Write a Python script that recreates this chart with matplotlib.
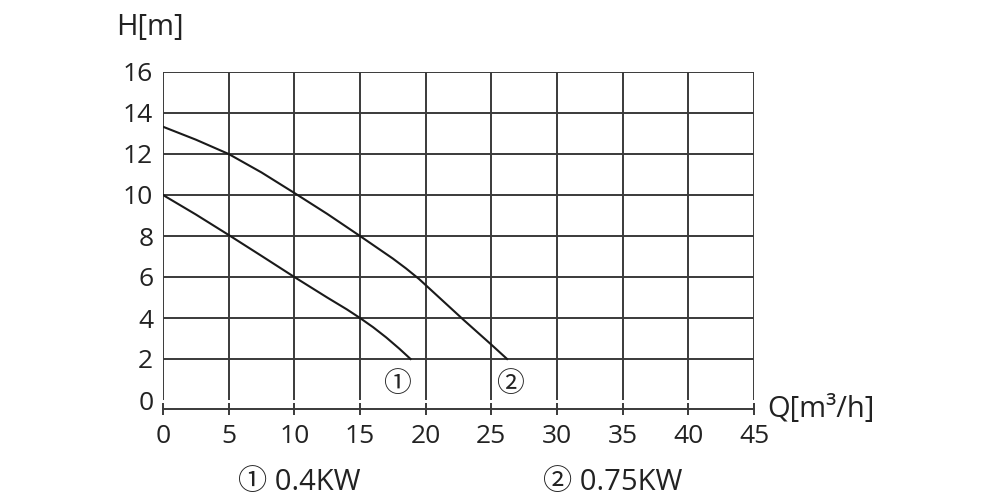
import numpy as np
import matplotlib
matplotlib.use("Agg")
import matplotlib.pyplot as plt

plt.rcParams['font.family'] = ['Open Sans', 'Noto Sans CJK SC', 'DejaVu Sans']

# 性能曲线数据（流量 Q [m³/h]，扬程 H [m]）
q_04 = [0, 2.5, 5, 7.5, 10, 12.5, 14, 15, 16, 17, 18, 18.85]
h_04 = [10.0, 9.05, 8.05, 7.03, 6.0, 5.0, 4.42, 4.0, 3.55, 3.05, 2.5, 2.0]

q_075 = [0, 2.5, 5, 7.5, 10, 12.5, 15, 17.5, 18.5, 19.5, 21.2, 22.9, 25, 26.2]
h_075 = [13.33, 12.7, 12.0, 11.1, 10.1, 9.08, 8.0, 6.9, 6.42, 5.9, 4.9, 3.9, 2.7, 2.0]

x_ticks = np.arange(0, 46, 5)
y_ticks = np.arange(0, 17, 2)

curve_tags = ["①", "②"]
curve_tag_pos = [(17.8, 0.72), (26.4, 0.72)]
legend_texts = ["① 0.4KW", "② 0.75KW"]

grid_color = "#3a3a3a"
text_color = "#222222"

fig = plt.figure(figsize=(10, 5), dpi=100)
ax = fig.add_axes([0.163, 0.2, 0.591, 0.656])
ax.set_xlim(0, 45)
ax.set_ylim(0, 16)

# 网格（y=0 处不画横线）
for yv in y_ticks[1:]:
    ax.axhline(yv, color=grid_color, lw=1.4, zorder=1)
for xv in x_ticks:
    ax.axvline(xv, color=grid_color, lw=1.4, zorder=1)

ax.plot(q_04, h_04, color="#1a1a1a", lw=1.5, zorder=3)
ax.plot(q_075, h_075, color="#1a1a1a", lw=1.5, zorder=3)

for tag, (tx, ty) in zip(curve_tags, curve_tag_pos):
    ax.text(tx, ty, tag, fontsize=20, ha="center", va="center", color=text_color)

for side in ["top", "left", "right"]:
    ax.spines[side].set_visible(False)
ax.spines["bottom"].set_position(("outward", 6.5))
ax.spines["bottom"].set_color(grid_color)
ax.spines["bottom"].set_linewidth(1.4)

ax.set_xticks(x_ticks)
ax.set_yticks(y_ticks)
ax.tick_params(axis="x", direction="inout", length=8, width=1.4, color=grid_color,
               labelsize=19, pad=7, labelcolor=text_color)
ax.tick_params(axis="y", length=0, labelsize=19, pad=7, labelcolor=text_color)

fig.text(0.116, 1 - 28 / 500, "H[m]", fontsize=21, ha="left", va="center", color=text_color)
fig.text(0.767, 1 - 410 / 500, "Q[m³/h]", fontsize=21, ha="left", va="center", color=text_color)
fig.text(0.238, 0.036, legend_texts[0], fontsize=21, ha="left", va="center", color=text_color)
fig.text(0.543, 0.036, legend_texts[1], fontsize=21, ha="left", va="center", color=text_color)

fig.savefig("out.png", dpi=100)
